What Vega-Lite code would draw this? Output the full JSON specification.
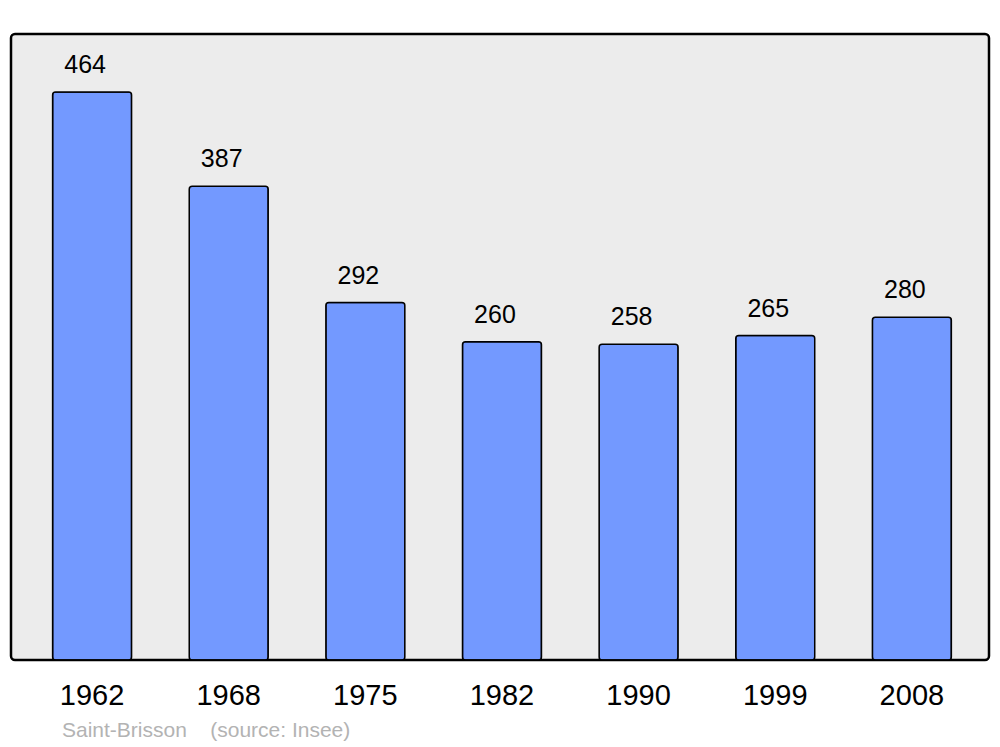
{
  "$schema": "https://vega.github.io/schema/vega-lite/v6.json",
  "width": 978,
  "height": 626,
  "autosize": {"type": "none"},
  "padding": {"left": 11, "top": 34, "right": 11, "bottom": 87},
  "background": "white",
  "config": {
    "font": "Liberation Sans",
    "view": {"stroke": "black", "strokeWidth": 2.5, "fill": "#ececec", "cornerRadius": 4}
  },
  "title": {
    "text": "Saint-Brisson\u00a0\u00a0\u00a0\u00a0(source: Insee)",
    "orient": "bottom",
    "anchor": "start",
    "frame": "group",
    "dx": 51,
    "offset": 27,
    "baseline": "alphabetic",
    "fontSize": 21,
    "fontWeight": "normal",
    "color": "#b3b3b3",
    "font": "Liberation Sans"
  },
  "data": {
    "values": [
      {"year": "1962", "pop": 464},
      {"year": "1968", "pop": 387},
      {"year": "1975", "pop": 292},
      {"year": "1982", "pop": 260},
      {"year": "1990", "pop": 258},
      {"year": "1999", "pop": 265},
      {"year": "2008", "pop": 280}
    ]
  },
  "encoding": {
    "x": {
      "field": "year",
      "type": "ordinal",
      "sort": null,
      "scale": {"paddingInner": 0.422, "paddingOuter": 0.29, "align": 0.525},
      "axis": {
        "title": null,
        "domain": false,
        "ticks": false,
        "tickSize": 0,
        "labelAngle": 0,
        "labelFontSize": 29,
        "labelColor": "black",
        "labelBaseline": "alphabetic",
        "labelPadding": 44,
        "labelFont": "Liberation Sans"
      }
    },
    "y": {
      "field": "pop",
      "type": "quantitative",
      "scale": {"domain": [0, 511.4], "nice": false, "zero": true},
      "axis": null
    }
  },
  "layer": [
    {
      "mark": {"type": "bar", "fill": "#7399ff", "stroke": "black", "strokeWidth": 1.5, "cornerRadius": 3}
    },
    {
      "mark": {"type": "text", "baseline": "alphabetic", "dy": -19, "dx": -7, "fontSize": 25, "color": "black", "font": "Liberation Sans"},
      "encoding": {"text": {"field": "pop", "type": "quantitative"}}
    }
  ]
}
